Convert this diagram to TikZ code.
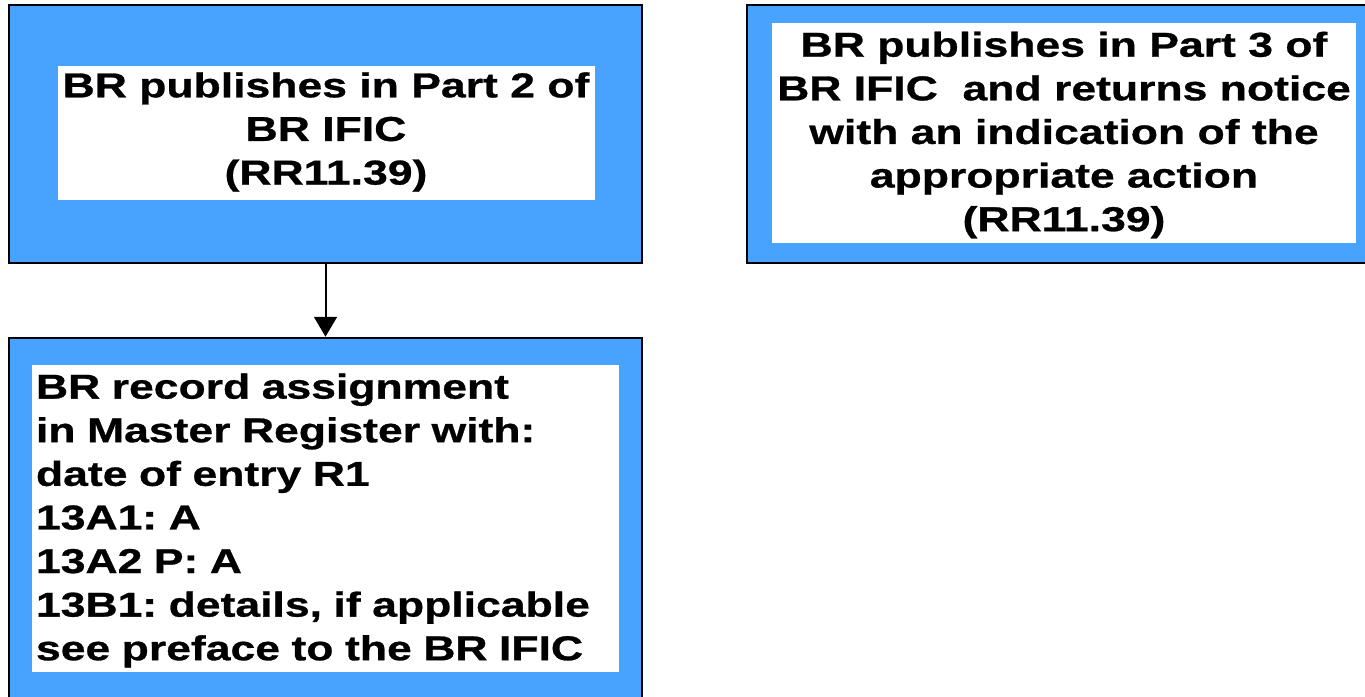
\documentclass[tikz,border=0pt]{standalone}
\usepackage{fontspec}
\setmainfont{Liberation Sans}[FakeStretch=1.29, BoldFeatures={FakeBold=0.8}]
\usetikzlibrary{arrows.meta}
\definecolor{boxblue}{RGB}{72,163,255}
\tikzset{
  outerbox/.style={draw=black, line width=2.5pt, fill=boxblue, rectangle, inner sep=0pt},
  innerbox/.style={fill=white, rectangle, inner sep=4pt, font=\fontsize{34.5}{43.6}\selectfont\bfseries},
  textonly/.style={inner sep=0pt, font=\fontsize{34.5}{43.6}\selectfont\bfseries},
  flowarrow/.style={line width=2pt, -{Triangle[width=23pt,length=20pt]}}
}
\frenchspacing
\begin{document}
\begin{tikzpicture}[x=1pt,y=-1pt]
\clip (0,0) rectangle (1365,696);
\fill[white] (0,0) rectangle (1365,696);
% outer boxes
\node[outerbox, minimum width=633pt, minimum height=258pt] (b1) at (325.5,134) {};
\node[outerbox, minimum width=630pt, minimum height=258pt] (b2) at (1062,134) {};
\node[outerbox, minimum width=633pt, minimum height=370pt] (b3) at (325.5,523) {};
% inner white boxes
\node[innerbox, minimum width=537pt, minimum height=134pt] (w1) at (326.5,133) {};
\node[innerbox, minimum width=584pt, minimum height=220pt] (w2) at (1064,133) {};
\node[innerbox, minimum width=587pt, minimum height=307pt] (w3) at (325.5,518.5) {};
% texts
\node[textonly, align=center] (t1) at (326,132)
  {BR publishes in Part 2 of\\BR IFIC\\(RR11.39)};
\node[textonly, align=center] (t2) at (1064,135)
  {BR publishes in Part 3 of\\BR IFIC\ \ and returns notice\\with an indication of the\\appropriate action\\(RR11.39)};
\node[textonly, text width=579pt, align=left] (t3) at (325.5,520.5)
  {BR record assignment\\in Master Register with:\\date of entry R1\\13A1: A\\13A2 P: A\\13B1: details, if applicable\\see preface to the BR IFIC};
% connector
\draw[flowarrow] (b1.south) -- (b3.north);
\end{tikzpicture}
\end{document}
